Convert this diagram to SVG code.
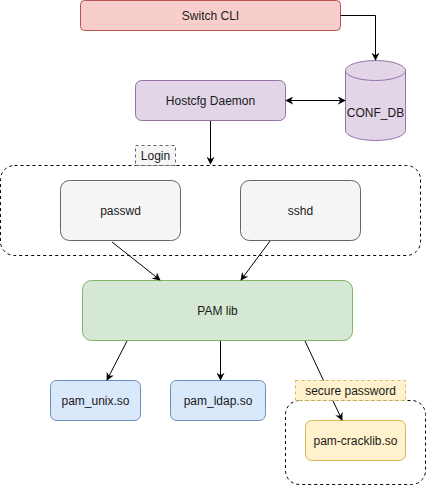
<svg xmlns="http://www.w3.org/2000/svg" width="426" height="486" viewBox="0 0 426 486">
<defs>
<marker id="ah" viewBox="0 0 10 10" refX="9" refY="5" markerWidth="8" markerHeight="8" markerUnits="userSpaceOnUse" orient="auto-start-reverse">
<path d="M0,0 L10,5 L0,10 L3,5 Z" fill="#000"/>
</marker>
<style>
text{font-family:"Liberation Sans",Arial,sans-serif;font-size:12px;fill:#1a1a1a;text-anchor:middle;dominant-baseline:central}
.e{stroke:#000;stroke-width:1;fill:none}
.grp{fill:none;stroke:#000;stroke-dasharray:3 3}
.gray{fill:#f5f5f5;stroke:#666}
</style>
</defs>
<rect width="426" height="486" fill="#fff"/>
<g id="login-group">
<rect class="grp" x="0.5" y="165.5" width="420" height="90" rx="14"/>
</g>
<g id="login-label">
<rect x="135.5" y="145.5" width="40" height="20" fill="#f5f5f5" stroke="#666" stroke-dasharray="3 3"/>
<text x="155.5" y="155.5">Login</text>
</g>
<g id="secure-group">
<rect class="grp" x="285.5" y="400.5" width="140" height="84" rx="14"/>
</g>
<g id="switch-cli">
<rect x="80.5" y="0.5" width="260" height="30" rx="4" fill="#f8cecc" stroke="#b85450"/>
<text x="210.5" y="15.5">Switch CLI</text>
</g>
<g id="conf-db">
<path d="M345.5,70.5 A30,10 0 0 1 405.5,70.5 L405.5,130.5 A30,10 0 0 1 345.5,130.5 Z" fill="#e1d5e7" stroke="#9673a6"/>
<path d="M345.5,70.5 A30,10 0 0 0 405.5,70.5" fill="none" stroke="#9673a6"/>
<text x="375.5" y="113">CONF_DB</text>
</g>
<g id="hostcfg">
<rect x="135.5" y="80.5" width="150" height="40" rx="6" fill="#e1d5e7" stroke="#9673a6"/>
<text x="210.5" y="100.5">Hostcfg Daemon</text>
</g>
<g id="passwd">
<rect class="gray" x="60.5" y="180.5" width="120" height="60" rx="9"/>
<text x="120.5" y="210.5">passwd</text>
</g>
<g id="sshd">
<rect class="gray" x="240.5" y="180.5" width="120" height="60" rx="9"/>
<text x="300.5" y="210.5">sshd</text>
</g>
<g id="pam-lib">
<rect x="82.5" y="280.5" width="270" height="60" rx="9" fill="#d5e8d4" stroke="#82b366"/>
<text x="217.5" y="310.5">PAM lib</text>
</g>
<g id="pam-unix">
<rect x="50.5" y="380.5" width="90" height="40" rx="6" fill="#dae8fc" stroke="#6c8ebf"/>
<text x="95.5" y="400.5">pam_unix.so</text>
</g>
<g id="pam-ldap">
<rect x="170.5" y="380.5" width="95" height="40" rx="6" fill="#dae8fc" stroke="#6c8ebf"/>
<text x="218" y="400.5">pam_ldap.so</text>
</g>
<g id="pam-cracklib">
<rect x="305.5" y="420.5" width="100" height="40" rx="6" fill="#fff2cc" stroke="#d6b656"/>
<text x="355.5" y="440.5">pam-cracklib.so</text>
</g>
<g id="connectors">
<path class="e" d="M340.5,15.5 H375.5 V60" marker-end="url(#ah)"/>
<path class="e" d="M286,100.5 H345" marker-start="url(#ah)" marker-end="url(#ah)"/>
<path class="e" d="M210.5,121 V164" marker-end="url(#ah)"/>
<path class="e" d="M112,242 L160,280" marker-end="url(#ah)"/>
<path class="e" d="M270,241 L241,280" marker-end="url(#ah)"/>
<path class="e" d="M127,341 L107,380" marker-end="url(#ah)"/>
<path class="e" d="M220.5,341 V380" marker-end="url(#ah)"/>
<path class="e" d="M305,341 L342,420" marker-end="url(#ah)"/>
</g>
<g id="secure-label">
<rect x="295.5" y="380.5" width="110" height="20" fill="#fff2cc" stroke="#d6b656" stroke-dasharray="3 3"/>
<text x="350.5" y="390.5">secure password</text>
</g>
</svg>
